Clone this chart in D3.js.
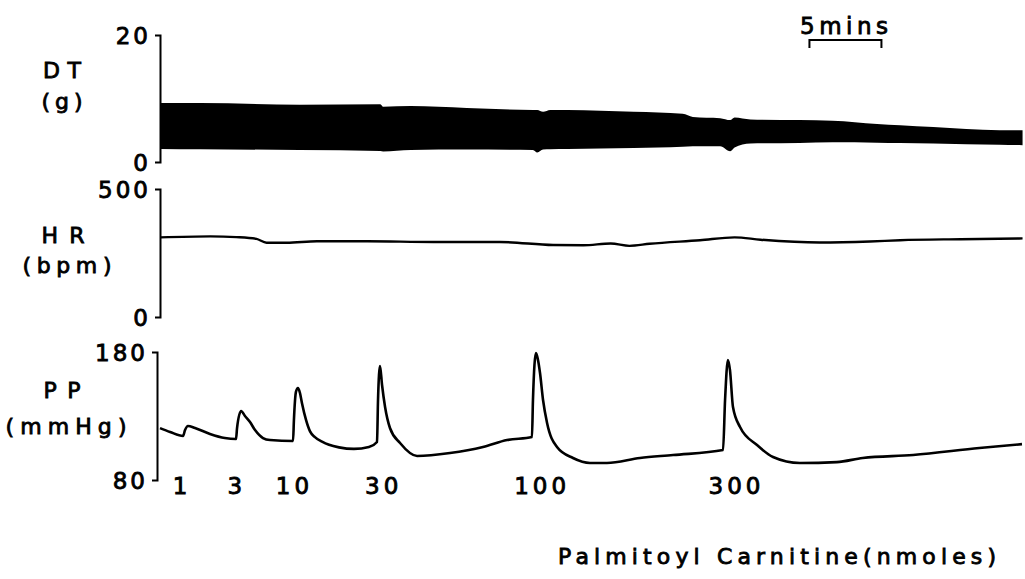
<!DOCTYPE html>
<html>
<head>
<meta charset="utf-8">
<script src="https://cdn.jsdelivr.net/npm/d3@7"></script>
<style>
  html, body { margin: 0; padding: 0; background: #fff; }
  svg { display: block; }
  text { font-family: "DejaVu Sans", "Liberation Sans", Arial, sans-serif; fill: #000; stroke: #000; stroke-width: 0.85px; }
</style>
</head>
<body>
<svg id="chart" width="1025" height="579"></svg>
<script>
// Recording time in minutes
// DT: developed tension envelope (g), upper and lower edge of the oscillating trace
const dtTime = [0, 2.8, 9.7, 15.3, 15.5, 17.4, 21.3, 25.9, 26.2, 26.6, 27.1, 28.3, 32.9, 36.3, 37.0, 38.9, 39.6, 39.9, 41.0, 44.4, 46.7, 49.8, 51.4, 53.7, 58.3, 59.9];
const dtMax  = [9.3, 9.3, 9.0, 9.1, 8.7, 8.8, 8.5, 8.2, 8.2, 7.9, 8.2, 8.2, 7.9, 7.6, 7.1, 6.9, 6.6, 7.0, 6.7, 6.6, 6.5, 6.0, 5.8, 5.5, 5.0, 5.0];
const dtMin  = [2.05, 2.0, 1.9, 1.75, 1.65, 1.9, 1.95, 1.9, 1.5, 1.95, 2.0, 2.05, 2.2, 2.4, 2.5, 2.5, 1.7, 2.3, 2.9, 3.0, 3.1, 3.05, 3.0, 2.9, 2.7, 2.65];

// HR: heart rate (bpm)
const hrTime = [0, 3.5, 5.3, 6.7, 7.4, 8.8, 10.9, 14.4, 19.0, 23.6, 27.3, 29.4, 31.3, 32.6, 34.0, 37.5, 39.9, 41.7, 45.8, 49.3, 51.4, 55.6, 59.9];
const hrVal  = [311, 315, 312, 305, 290, 290, 296, 296, 293, 293, 281, 280, 287, 278, 286, 300, 311, 302, 291, 295, 300, 304, 307];

// PP: perfusion pressure (mmHg)
const ppTime = [0, 0.7, 1.6, 1.74, 1.94, 2.43, 3.47, 4.5, 5.28, 5.35, 5.63, 5.9, 6.25, 6.6, 7.15, 7.64, 9.24, 9.3, 9.44, 9.58, 9.72, 9.86, 10.14, 10.42, 10.76, 11.25, 11.74, 12.43, 13.47, 14.51, 15.07, 15.14, 15.28, 15.42, 15.63, 15.97, 16.67, 17.85, 20.14, 22.43, 24.1, 25.83, 25.9, 26.11, 26.25, 26.39, 26.6, 26.88, 27.57, 28.68, 29.86, 31.04, 33.33, 35.63, 39.1, 39.24, 39.44, 39.58, 39.79, 40.28, 41.46, 42.57, 44.44, 47.0, 48.8, 52.3, 56.9, 59.86];
const ppVal  = [120.5, 117.5, 114.4, 119, 122.2, 120.6, 116, 112.8, 112, 120.6, 133.9, 130, 125.3, 119, 112.8, 111.2, 110.5, 126.9, 148.8, 151.9, 148, 140, 127, 118, 113.5, 110, 107.5, 105.5, 104.3, 105.8, 109.7, 142.5, 169, 154.2, 137, 120.6, 108.9, 98.8, 101.1, 105.8, 111.2, 113.6, 142.5, 179.2, 173.8, 163.6, 142.5, 124.5, 105.8, 97.2, 93.3, 93.3, 97.2, 99.5, 103.4, 142.5, 173.8, 166, 137, 121.4, 107.3, 98, 93.3, 94, 97.2, 99.5, 105, 108];

// Doses of palmitoyl carnitine (nmoles) and where their labels sit (min)
const doses = ["1", "3", "10", "30", "100", "300"];
const doseLabelTime = [1.4, 5.2, 9.2, 15.4, 26.4, 39.9];

// Axis ticks
const dtTicks = [0, 20];
const hrTicks = [0, 500];
const ppTicks = [80, 180];

// Time scale bar
const scaleBarStart = 45.1;
const scaleBarMinutes = 5;
const scaleBarLabel = "5mins";

const svg = d3.select("#chart");

const x = d3.scaleLinear().domain([0, 60]).range([160, 1024]);
const yDT = d3.scaleLinear().domain([0, 20]).range([162, 35]);
const yHR = d3.scaleLinear().domain([0, 500]).range([317, 189]);
const yPP = d3.scaleLinear().domain([80, 180]).range([480, 352]);

function drawAxis(scale, ticks, xPos) {
  const g = svg.append("g")
    .attr("transform", `translate(${xPos},0)`)
    .call(d3.axisLeft(scale).tickValues(ticks).tickSize(5).tickPadding(7).tickFormat(d3.format("d")));
  g.attr("font-family", null).attr("font-size", null);
  g.select(".domain").attr("stroke", "#000").attr("stroke-width", 2);
  g.selectAll(".tick line").remove();
  g.selectAll(".tick text")
    .style("font-size", "23px")
    .attr("letter-spacing", 3)
    .attr("dx", 3)
    .attr("dy", "0.36em");
  return g;
}

drawAxis(yDT, dtTicks, 160);
drawAxis(yHR, hrTicks, 160);
drawAxis(yPP, ppTicks, 157);

// DT envelope
const dtData = dtTime.map((t, i) => ({ t, hi: dtMax[i], lo: dtMin[i] }));
svg.append("path")
  .datum(dtData)
  .attr("fill", "#000")
  .attr("d", d3.area().x(d => x(d.t)).y0(d => yDT(d.lo)).y1(d => yDT(d.hi)).curve(d3.curveMonotoneX));

// HR trace
const hrData = hrTime.map((t, i) => ({ t, v: hrVal[i] }));
svg.append("path")
  .datum(hrData)
  .attr("fill", "none").attr("stroke", "#000").attr("stroke-width", 2.4)
  .attr("d", d3.line().x(d => x(d.t)).y(d => yHR(d.v)).curve(d3.curveMonotoneX));

// PP trace
const ppData = ppTime.map((t, i) => ({ t, v: ppVal[i] }));
svg.append("path")
  .datum(ppData)
  .attr("fill", "none").attr("stroke", "#000").attr("stroke-width", 2.6)
  .attr("stroke-linejoin", "round")
  .attr("d", d3.line().x(d => x(d.t)).y(d => yPP(d.v)).curve(d3.curveMonotoneX));

// Panel labels
const panelLabels = [
  { text: "DT", cx: 62, y: 78, len: 38 },
  { text: "(g)", cx: 62, y: 109, len: 41 },
  { text: "HR", cx: 63, y: 243, len: 43 },
  { text: "(bpm)", cx: 67, y: 273, len: 89 },
  { text: "PP", cx: 62, y: 398, len: 37 },
  { text: "(mmHg)", cx: 66, y: 434, len: 121 }
];
svg.selectAll("text.panel")
  .data(panelLabels)
  .join("text")
  .attr("class", "panel")
  .attr("x", d => d.cx - d.len / 2)
  .attr("y", d => d.y)
  .style("font-size", "22px")
  .attr("textLength", d => d.len)
  .attr("lengthAdjust", "spacing")
  .text(d => d.text);

// Dose labels
svg.selectAll("text.dose")
  .data(doses)
  .join("text")
  .attr("class", "dose")
  .attr("x", (d, i) => x(doseLabelTime[i]))
  .attr("y", 494)
  .attr("text-anchor", "middle")
  .style("font-size", "23px")
  .attr("letter-spacing", 4)
  .attr("dx", 2)
  .text(d => d);

// Drug label
svg.append("text")
  .attr("x", 558)
  .attr("y", 564)
  .style("font-size", "22px")
  .attr("textLength", 438)
  .attr("lengthAdjust", "spacing")
  .text("Palmitoyl Carnitine(nmoles)");

// Time scale bar
const sb0 = x(scaleBarStart), sb1 = x(scaleBarStart + scaleBarMinutes);
svg.append("path")
  .attr("fill", "none").attr("stroke", "#000").attr("stroke-width", 2)
  .attr("d", `M${sb0},48V40H${sb1}V48`);
svg.append("text")
  .attr("x", 800)
  .attr("y", 34)
  .style("font-size", "23px")
  .attr("textLength", 88)
  .attr("lengthAdjust", "spacing")
  .text(scaleBarLabel);
</script>
</body>
</html>
